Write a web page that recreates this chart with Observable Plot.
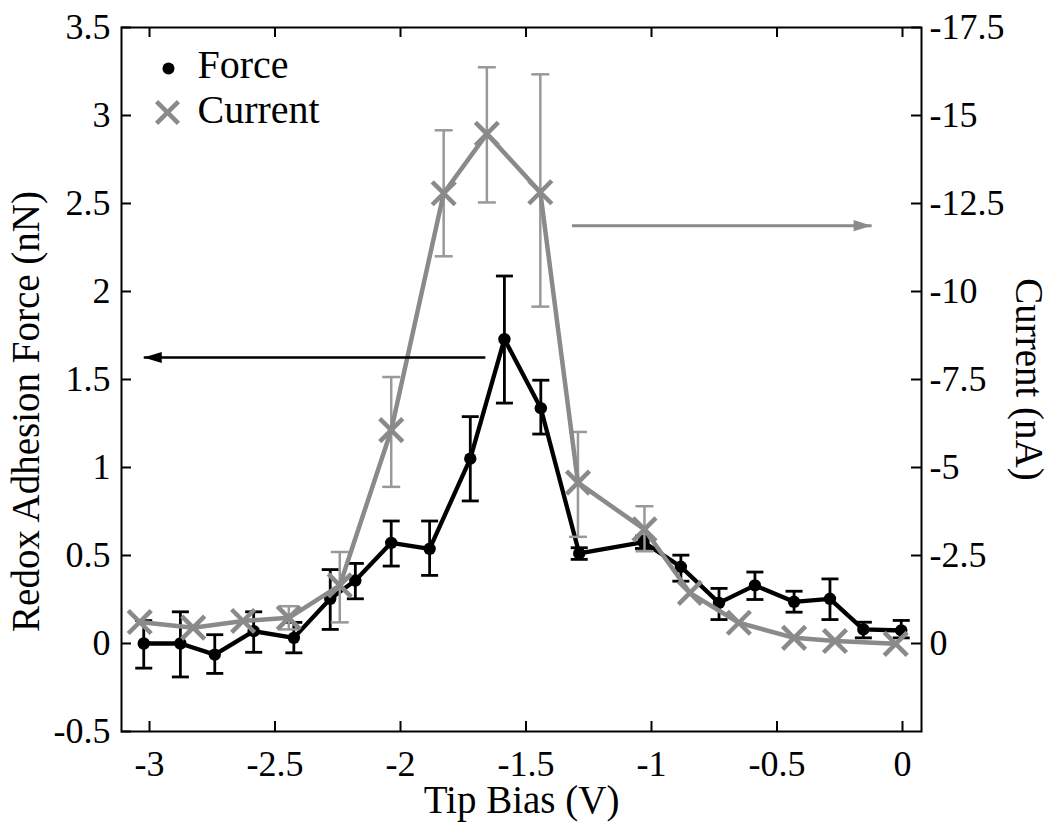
<!DOCTYPE html>
<html><head><meta charset="utf-8">
<script src="https://cdn.jsdelivr.net/npm/d3@7"></script>
<script src="https://cdn.jsdelivr.net/npm/@observablehq/plot@0.6"></script>
<style>body{margin:0;background:#fff;} svg{display:block;}</style>
</head><body><div id="chart"></div>
<script>
// Force (nN) vs tip bias (V)
const forceBias  = [-3.023, -2.877, -2.74, -2.585, -2.425, -2.28, -2.18, -2.037, -1.884, -1.722, -1.586, -1.441, -1.288, -1.032, -0.883, -0.731, -0.588, -0.432, -0.289, -0.156, -0.005];
const forceValue = [0, 0, -0.063, 0.07, 0.032, 0.254, 0.358, 0.572, 0.538, 1.05, 1.729, 1.337, 0.512, 0.576, 0.436, 0.231, 0.33, 0.237, 0.254, 0.08, 0.074];
const forceHigh  = [0.13, 0.18, 0.05, 0.18, 0.12, 0.42, 0.455, 0.696, 0.696, 1.289, 2.088, 1.496, 0.544, 0.61, 0.502, 0.313, 0.406, 0.297, 0.367, 0.121, 0.131];
const forceLow   = [-0.14, -0.19, -0.17, -0.05, -0.053, 0.08, 0.254, 0.44, 0.387, 0.81, 1.366, 1.19, 0.478, 0.54, 0.354, 0.136, 0.25, 0.178, 0.136, 0.032, 0.032];

// Current (nA) vs tip bias (V)
const currentBias  = [-3.039, -2.826, -2.627, -2.445, -2.242, -2.037, -1.828, -1.656, -1.443, -1.293, -1.028, -0.847, -0.652, -0.432, -0.269, -0.027];
const currentValue = [-0.61, -0.45, -0.64, -0.73, -1.65, -6.06, -12.79, -14.48, -12.82, -4.57, -3.24, -1.44, -0.59, -0.16, -0.07, 0.01];
const currentHigh  = [null, null, null, -1.06, -2.6, -7.57, -14.58, -16.37, -16.17, -6.01, -3.9, null, null, null, null, null];
const currentLow   = [null, null, null, -0.4, -0.6, -4.45, -11.0, -12.53, -9.57, -3.03, -2.62, null, null, null, null, null];

// Ticks
const xTicks = [-3, -2.5, -2, -1.5, -1, -0.5, 0];
const forceTicks = [-0.5, 0, 0.5, 1, 1.5, 2, 2.5, 3, 3.5];
const currentTicks = [0, -2.5, -5, -7.5, -10, -12.5, -15, -17.5];

// Text
const legendLabels = ["Force", "Current"];
const xTitle = "Tip Bias (V)";
const yTitleLeft = "Redox Adhesion Force (nN)";
const yTitleRight = "Current (nA)";

// Annotation arrows (x from, x to, level)
const forceArrow = {from: -1.662, to: -3.023, level: 1.625};      // nN
const currentArrow = {from: -1.317, to: -0.123, level: -11.87};   // nA

// right axis mapping: -17.5 nA <-> 3.5 nN
const toForce = c => -c / 5;

const forceData = forceBias.map((x, i) => ({x, y: forceValue[i], hi: forceHigh[i], lo: forceLow[i]}));
const currentData = currentBias.map((x, i) => ({
  x, y: toForce(currentValue[i]),
  hi: currentHigh[i] == null ? null : toForce(currentHigh[i]),
  lo: currentLow[i] == null ? null : toForce(currentLow[i])
}));
const currentBars = currentData.filter(d => d.hi != null);

const capSymbol = {draw(ctx, size) { const r = Math.sqrt(size / Math.PI); ctx.moveTo(-r, 0); ctx.lineTo(r, 0); }};
const headSymbol = {draw(ctx, size) { const r = Math.sqrt(size / Math.PI); ctx.moveTo(0, 0); ctx.lineTo(-2 * r, -0.62 * r); ctx.lineTo(-2 * r, 0.62 * r); ctx.closePath(); }};

const FONT = "Liberation Serif, Times New Roman, serif";
const GRAY = "#8a8a8a";
const GRAY_ERR = "#999999";
const PH = 827 - 27 - 96, PW = 1050 - 121 - 129;

const chart = Plot.plot({
  width: 1050, height: 827,
  marginLeft: 121, marginRight: 129, marginTop: 27, marginBottom: 96,
  style: {fontFamily: FONT, background: "white", color: "black"},
  x: {domain: [-3.1116, 0.0757]},
  y: {domain: [-0.5, 3.5]},
  marks: [
    // inward ticks
    Plot.ruleX(xTicks, {x: d => d, insetTop: PH - 10, stroke: "black", strokeWidth: 2}),
    Plot.ruleX(xTicks, {x: d => d, insetBottom: PH - 10, stroke: "black", strokeWidth: 2}),
    Plot.ruleY(forceTicks, {y: d => d, insetRight: PW - 10, stroke: "black", strokeWidth: 2}),
    Plot.ruleY(currentTicks.map(toForce), {y: d => d, insetLeft: PW - 10, stroke: "black", strokeWidth: 2}),
    Plot.frame({stroke: "black", strokeWidth: 2}),
    Plot.axisX({anchor: "bottom", ticks: xTicks, tickSize: 0, tickPadding: 19, tickFormat: d => String(d), fontSize: 36, fontFamily: FONT, label: null}),
    Plot.axisY({anchor: "left", ticks: forceTicks, tickSize: 0, tickPadding: 11, tickFormat: d => String(d), fontSize: 36, fontFamily: FONT, label: null}),
    Plot.axisY({anchor: "right", ticks: currentTicks.map(toForce), tickSize: 0, tickPadding: 8, tickFormat: d => String(Math.round(-5 * d * 10) / 10 + 0), fontSize: 36, fontFamily: FONT, label: null}),

    // Force series
    Plot.ruleX(forceData, {x: "x", y1: "lo", y2: "hi", stroke: "black", strokeWidth: 2.8}),
    Plot.dot(forceData, {x: "x", y: "hi", symbol: capSymbol, r: 8.5, stroke: "black", strokeWidth: 2.8, fill: "none"}),
    Plot.dot(forceData, {x: "x", y: "lo", symbol: capSymbol, r: 8.5, stroke: "black", strokeWidth: 2.8, fill: "none"}),
    Plot.line(forceData, {x: "x", y: "y", stroke: "black", strokeWidth: 4.3}),
    Plot.dot(forceData, {x: "x", y: "y", r: 6.2, fill: "black"}),

    // Current series
    Plot.ruleX(currentBars, {x: "x", y1: "lo", y2: "hi", stroke: GRAY_ERR, strokeWidth: 2.5}),
    Plot.dot(currentBars, {x: "x", y: "hi", symbol: capSymbol, r: 9, stroke: GRAY_ERR, strokeWidth: 2.5, fill: "none"}),
    Plot.dot(currentBars, {x: "x", y: "lo", symbol: capSymbol, r: 9, stroke: GRAY_ERR, strokeWidth: 2.5, fill: "none"}),
    Plot.line(currentData, {x: "x", y: "y", stroke: GRAY, strokeWidth: 4.5}),
    Plot.dot(currentData, {x: "x", y: "y", symbol: "times", r: 10.5, stroke: GRAY, strokeWidth: 4.5}),

    // Arrows
    Plot.link([forceArrow], {x1: "from", x2: "to", y1: "level", y2: "level", stroke: "black", strokeWidth: 2.5}),
    Plot.dot([forceArrow], {x: "to", y: "level", symbol: headSymbol, r: 9, rotate: 180, fill: "black", stroke: "none"}),
    Plot.link([currentArrow], {x1: "from", x2: "to", y1: d => toForce(d.level), y2: d => toForce(d.level), stroke: GRAY, strokeWidth: 3}),
    Plot.dot([currentArrow], {x: "to", y: d => toForce(d.level), symbol: headSymbol, r: 9, rotate: 0, fill: GRAY, stroke: "none"}),

    // Legend
    Plot.dot([legendLabels[0]], {frameAnchor: "top-left", dx: 47, dy: 41, r: 6, fill: "black"}),
    Plot.dot([legendLabels[1]], {frameAnchor: "top-left", dx: 46, dy: 85, r: 10, symbol: "times", stroke: GRAY, strokeWidth: 4.5}),
    Plot.text([legendLabels[0]], {text: d => d, frameAnchor: "top-left", dx: 76, dy: 38, textAnchor: "start", lineAnchor: "middle", fontSize: 40, fontFamily: FONT, fill: "black"}),
    Plot.text([legendLabels[1]], {text: d => d, frameAnchor: "top-left", dx: 76, dy: 83, textAnchor: "start", lineAnchor: "middle", fontSize: 40, fontFamily: FONT, fill: "black"}),

    // Axis titles
    Plot.text([xTitle], {text: d => d, frameAnchor: "bottom", dy: 69, textAnchor: "middle", lineAnchor: "middle", fontSize: 39, fontFamily: FONT, fill: "black"}),
    Plot.text([yTitleLeft], {text: d => d, frameAnchor: "left", dx: -95, dy: 32, rotate: -90, textAnchor: "middle", lineAnchor: "middle", fontSize: 39, fontFamily: FONT, fill: "black"}),
    Plot.text([yTitleRight], {text: d => d, frameAnchor: "right", dx: 107, dy: 0, rotate: 90, textAnchor: "middle", lineAnchor: "middle", fontSize: 39, fontFamily: FONT, fill: "black"})
  ]
});
document.getElementById("chart").appendChild(chart);
</script>
</body></html>
